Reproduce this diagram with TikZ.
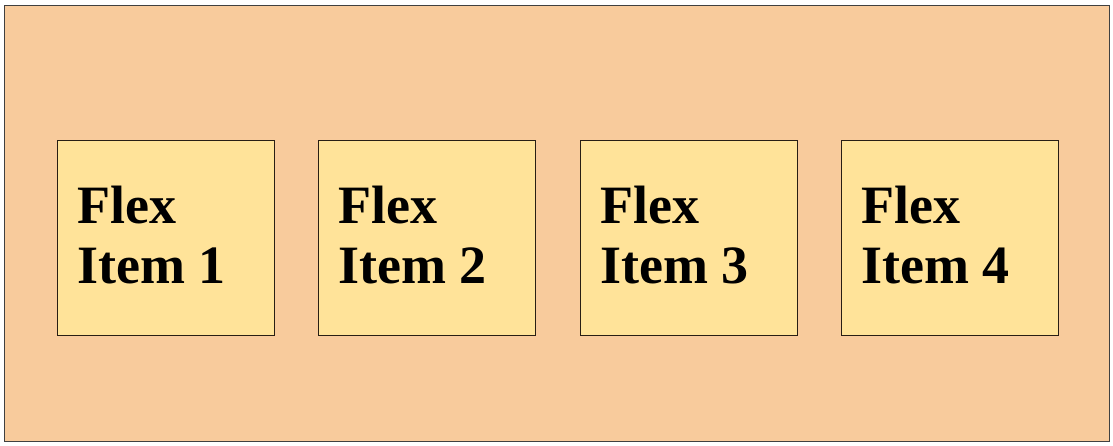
\documentclass[tikz,border=0pt]{standalone}
\usepackage{fontspec}
\setmainfont{Liberation Serif}
\definecolor{bgpeach}{RGB}{248,203,156}
\definecolor{itemyellow}{RGB}{255,227,153}
\definecolor{edgedark}{RGB}{40,30,20}
\begin{document}
\begin{tikzpicture}[x=1pt,y=-1pt,
  itembox/.style={draw=edgedark,line width=1.1pt,fill=itemyellow,minimum width=217pt,minimum height=195pt,inner sep=0pt,anchor=north west},
  itemtext/.style={font=\fontsize{54pt}{60pt}\selectfont\bfseries,align=left,inner sep=0pt,anchor=north west,text=black}]
\useasboundingbox (0,0) rectangle (1113,445);
\node[draw=black!75,line width=1.4pt,fill=bgpeach,minimum width=1105pt,minimum height=436pt,inner sep=0pt,anchor=north west] (container) at (4,4.5) {};
\node[itembox] (b1) at (57,140) {};
\node[itembox] (b2) at (318,140) {};
\node[itembox] (b3) at (580,140) {};
\node[itembox] (b4) at (841,140) {};
\node[itemtext] (t1) at ([xshift=20pt,yshift=-46pt]b1.north west) {Flex\\Item 1};
\node[itemtext] (t2) at ([xshift=20pt,yshift=-46pt]b2.north west) {Flex\\Item 2};
\node[itemtext] (t3) at ([xshift=20pt,yshift=-46pt]b3.north west) {Flex\\Item 3};
\node[itemtext] (t4) at ([xshift=20pt,yshift=-46pt]b4.north west) {Flex\\Item 4};
\end{tikzpicture}
\end{document}
